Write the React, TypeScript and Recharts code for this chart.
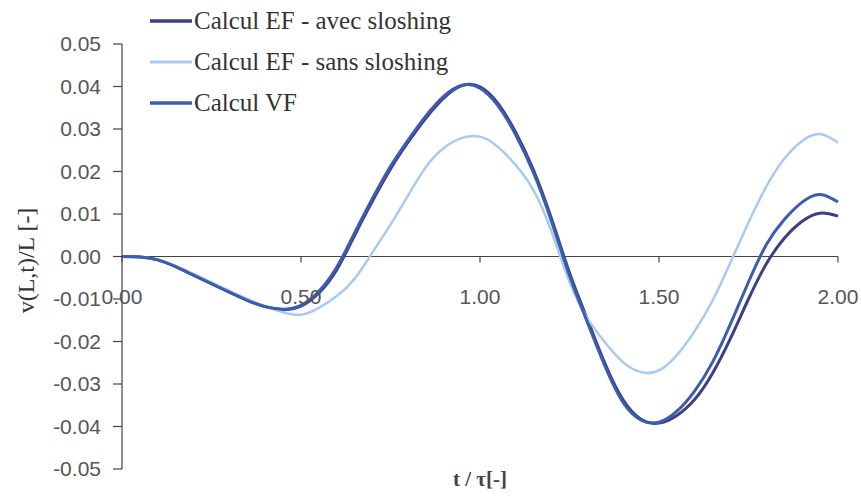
import React from 'react';
import { LineChart, Line, XAxis, YAxis, ReferenceLine, Label } from 'recharts';

// t / tau
const T = [
  0, 0.05, 0.1, 0.15, 0.2, 0.25, 0.3, 0.35, 0.4, 0.45, 0.5, 0.55, 0.6, 0.65, 0.7, 0.75, 0.8, 0.85, 0.9, 0.95, 1.0,
  1.05, 1.1, 1.15, 1.2, 1.25, 1.3, 1.35, 1.4, 1.45, 1.5, 1.55, 1.6, 1.65, 1.7, 1.75, 1.8, 1.85, 1.9, 1.95, 2.0,
];

// Calcul EF - avec sloshing
const AVEC = [
  0, -0.0001, -0.0008, -0.0024, -0.0044, -0.0064, -0.0084, -0.0103, -0.0118, -0.0125, -0.0117, -0.0086, -0.0031,
  0.005, 0.0131, 0.0206, 0.027, 0.0327, 0.0374, 0.0402, 0.0399, 0.036, 0.0292, 0.0202, 0.0088, -0.0038, -0.0148,
  -0.0254, -0.0338, -0.0383, -0.0392, -0.0374, -0.0336, -0.0274, -0.0192, -0.01, -0.0017, 0.0043, 0.0083, 0.0102,
  0.0095,
];

// Calcul EF - sans sloshing
const SANS = [
  0, -0.0001, -0.0007, -0.0022, -0.0041, -0.0061, -0.0081, -0.01, -0.0117, -0.0131, -0.0137, -0.0121, -0.0093,
  -0.0052, 0.001, 0.0075, 0.0145, 0.0212, 0.0256, 0.0279, 0.0282, 0.0258, 0.0215, 0.0155, 0.0058, -0.006, -0.0145,
  -0.0203, -0.0249, -0.0272, -0.0268, -0.0232, -0.0175, -0.0103, -0.0013, 0.008, 0.0165, 0.023, 0.0272, 0.0288,
  0.0268,
];

// Calcul VF
const VF = [
  0, -0.0001, -0.0008, -0.0024, -0.0044, -0.0064, -0.0084, -0.0103, -0.0118, -0.0124, -0.0115, -0.0082, -0.0025,
  0.0056, 0.0137, 0.0212, 0.0275, 0.0332, 0.0378, 0.0403, 0.0396, 0.0355, 0.0286, 0.0196, 0.0082, -0.0045, -0.0155,
  -0.026, -0.0344, -0.0385, -0.039, -0.0364, -0.0316, -0.0248, -0.0158, -0.006, 0.0028, 0.0087, 0.0128, 0.0146,
  0.0128,
];

const X_TICKS = [0, 0.5, 1, 1.5, 2];
const Y_TICKS = [-0.05, -0.04, -0.03, -0.02, -0.01, 0, 0.01, 0.02, 0.03, 0.04, 0.05];

const SERIES = [
  { key: 'avec', name: 'Calcul EF - avec sloshing', color: '#3c3f80', width: 3 },
  { key: 'sans', name: 'Calcul EF - sans sloshing', color: '#a9caee', width: 2.5 },
  { key: 'vf', name: 'Calcul VF', color: '#3c5cae', width: 3 },
];

const data = T.map((t, i) => ({ t, avec: AVEC[i], sans: SANS[i], vf: VF[i] }));

const PLOT_TOP = 44;
const PLOT_H = 425;
const ZERO_Y = PLOT_TOP + PLOT_H / 2;

const tickFont = { fontFamily: '"Liberation Sans", Arial, sans-serif', fontSize: 21, fill: '#555' };
const serif = '"Liberation Serif", "Times New Roman", serif';

const XTick = (props: any) => {
  const { x, payload } = props;
  return (
    <g>
      <line x1={x} x2={x} y1={ZERO_Y} y2={ZERO_Y + 6} stroke="#444" strokeWidth={1.2} />
      <text x={x} y={ZERO_Y + 47} textAnchor="middle" {...tickFont}>
        {Number(payload.value).toFixed(2)}
      </text>
    </g>
  );
};

const LegendBox = () => (
  <div style={{ position: 'absolute', left: 150, top: 0, fontFamily: serif, fontSize: 25, color: '#333' }}>
    {SERIES.map((s) => (
      <div key={s.key} style={{ display: 'flex', alignItems: 'center', height: 41 }}>
        <svg width={42} height={10} style={{ marginRight: 2 }}>
          <line x1={0} x2={42} y1={5} y2={5} stroke={s.color} strokeWidth={s.width + 0.5} />
        </svg>
        <span>{s.name}</span>
      </div>
    ))}
  </div>
);

export default function App() {
  return (
    <div style={{ position: 'absolute', left: 0, top: 0, width: 861, height: 499, background: '#fff' }}>
      <LineChart width={861} height={499} data={data} margin={{ top: PLOT_TOP, right: 23, bottom: 29, left: 0 }}>
        <XAxis
          dataKey="t"
          type="number"
          domain={[0, 2]}
          ticks={X_TICKS}
          height={1}
          axisLine={false}
          tickLine={false}
          tick={(p: any) => <XTick {...p} />}
          interval={0}
        >
          <Label
            content={(p: any) => (
              <text
                x={p.viewBox.x + p.viewBox.width / 2}
                y={p.viewBox.y + 17}
                textAnchor="middle"
                fontFamily={serif}
                fontWeight="bold"
                fontSize={21}
                fill="#444"
              >
                t / τ[-]
              </text>
            )}
          />
        </XAxis>
        <YAxis
          type="number"
          domain={[-0.05, 0.05]}
          ticks={Y_TICKS}
          width={122}
          tickFormatter={(v: number) => v.toFixed(2)}
          tick={tickFont}
          tickSize={9}
          tickMargin={12}
          axisLine={{ stroke: '#444', strokeWidth: 1.2 }}
          tickLine={{ stroke: '#444', strokeWidth: 1.2 }}
          interval={0}
        >
          <Label
            content={(p: any) => {
              const cx = p.viewBox.x + 26;
              const cy = p.viewBox.y + p.viewBox.height / 2 + 4;
              return (
                <text
                  x={cx}
                  y={cy}
                  transform={`rotate(-90 ${cx} ${cy})`}
                  textAnchor="middle"
                  dominantBaseline="central"
                  fontFamily={serif}
                  fontSize={24}
                  fill="#333"
                >
                  v(L,t)/L [-]
                </text>
              );
            }}
          />
        </YAxis>
        <ReferenceLine y={0} stroke="#444" strokeWidth={1.2} />
        {SERIES.map((s) => (
          <Line
            key={s.key}
            type="natural"
            dataKey={s.key}
            name={s.name}
            stroke={s.color}
            strokeWidth={s.width}
            dot={false}
            isAnimationActive={false}
          />
        ))}
      </LineChart>
      <LegendBox />
    </div>
  );
}
